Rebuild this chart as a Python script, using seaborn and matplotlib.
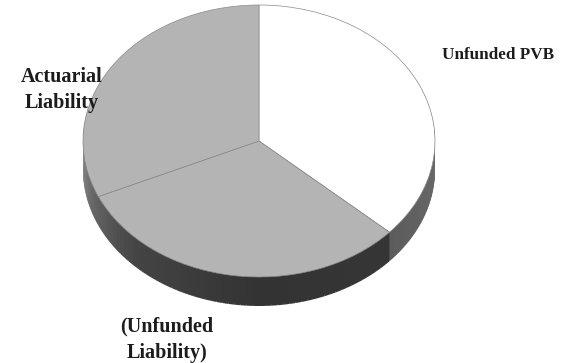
import numpy as np
import matplotlib
matplotlib.use("Agg")
import matplotlib.pyplot as plt
import seaborn as sns

sns.set_theme(style="white")

# Data
segments = ["Unfunded PVB", "(Unfunded\nLiability)", "Actuarial\nLiability"]
shares = [36.7, 31.6, 31.7]
top_colors = ["#ffffff", "#b4b4b4", "#b4b4b4"]

# Side-wall shading stops: (clockwise degrees from 12 o'clock, grey level)
shade_deg = [0, 90, 131, 132, 180, 225, 250, 270, 360]
shade_val = [0.45, 0.42, 0.36, 0.21, 0.20, 0.27, 0.40, 0.56, 0.56]

W, H = 583, 363
CX, CY, RX, RY, DEPTH = 259, 141, 176, 136, 29
K = RX / RY  # stretches data units so a pie of radius RX renders as an ellipse

fig = plt.figure(figsize=(W / 100, H / 100), dpi=100, facecolor="white")
ax = fig.add_axes([0, 0, 1, 1])


def cy(p):
    return (H - p) * K


# Extruded side: stacked pies, each split into thin shaded wedges
n = 180
deg = (np.arange(n) + 0.5) * 360 / n
levels = np.interp(deg, shade_deg, shade_val)
wall = [(v, v, v) for v in levels]
for d in np.arange(DEPTH, 0, -1.0):
    ax.pie([1] * n, colors=wall, startangle=90, counterclock=False,
           center=(CX, cy(CY + d)), radius=RX, frame=True,
           wedgeprops=dict(linewidth=0.4, edgecolor="none"))

# Top face
ax.pie(shares, colors=top_colors, startangle=90, counterclock=False,
       center=(CX, cy(CY)), radius=RX, frame=True,
       wedgeprops=dict(linewidth=0.5, edgecolor="#8a8a8a"))

ax.set_aspect("auto")
ax.set_xlim(0, W)
ax.set_ylim(0, H * K)
ax.axis("off")

# Labels
label_layout = [(498, 55, 12.3, 1.4), (167, 340, 14.5, 1.45), (62, 90, 14.5, 1.4)]
for name, (x, y, size, spacing) in zip(segments, label_layout):
    ax.text(x, cy(y), name, ha="center", va="center", family="Liberation Serif",
            fontweight="bold", fontsize=size, color="#1c1c1c", linespacing=spacing)

fig.savefig("out.png", dpi=100, facecolor="white")
